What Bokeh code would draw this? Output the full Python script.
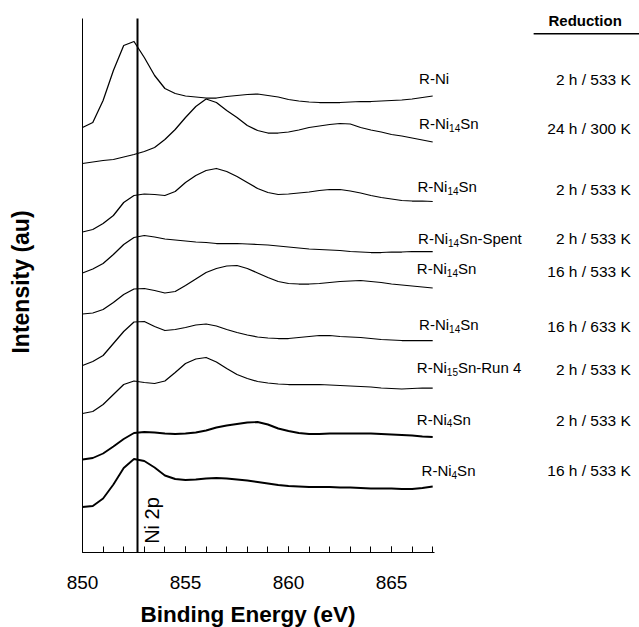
import math
from bokeh.plotting import figure
from bokeh.models import Range1d, SingleIntervalTicker, FixedTicker, ColumnDataSource, Label
from bokeh.core.properties import value
from bokeh.embed import file_html
from bokeh.resources import INLINE

# ---------------- data ----------------
energy = [850.0, 850.5, 851.0, 851.5, 852.0, 852.5, 853.0, 853.5, 854.0, 854.5,
          855.0, 855.5, 856.0, 856.5, 857.0, 857.5, 858.0, 858.5, 859.0, 859.5,
          860.0, 860.5, 861.0, 861.5, 862.0, 862.5, 863.0, 863.5, 864.0, 864.5,
          865.0, 865.5, 866.0, 866.5, 867.0]

# stacked intensities (au), top spectrum first
r_ni = [425, 430, 452, 482, 507, 511, 495, 477, 464, 459, 456.5, 455.5, 454.5, 454.5, 456,
        457, 458, 458.5, 457, 455.5, 453, 451.5, 450.5, 450, 450, 450, 450.5, 451, 451,
        451.5, 452, 452.5, 453.5, 455, 456.5]
r_ni14sn_24h_300k = [389, 390.5, 392, 393, 395.5, 398, 401, 405, 413, 423, 435, 446, 453.5, 450,
                     442, 435, 427, 422, 419.5, 419.5, 420.5, 422.5, 425, 426.5, 428, 429, 428.5,
                     425, 422.5, 420.5, 418, 416.5, 414.5, 412.5, 410.5]
r_ni14sn_2h_533k = [320.5, 323, 329, 337, 350, 357, 358.5, 358, 357, 361, 370, 377, 382, 384,
                    381, 376, 370, 364, 360, 358, 358.5, 359.5, 360.5, 362, 363, 363, 361.5,
                    359.5, 357, 355, 353.5, 352, 351.5, 351.5, 351]
r_ni14sn_spent = [279.5, 283.5, 289, 298, 308, 315, 317, 315.5, 313.5, 312.5, 311.5, 310.5, 310,
                  309, 309, 309, 308.5, 308, 307.5, 306.5, 305.5, 304.5, 303.5, 303, 302.5, 302,
                  301, 300.5, 300, 300, 300.5, 300.5, 301, 301, 301]
r_ni14sn_16h_533k = [238.5, 239.5, 243, 250, 258, 263.5, 264, 262, 259.5, 261, 267, 273.5, 280,
                     284, 286.5, 287, 284, 279.5, 275, 271, 269, 268.5, 268.5, 269, 270, 271,
                     271.5, 272, 271, 270, 268.5, 267.5, 266.5, 265.5, 264.5]
r_ni14sn_16h_633k = [187, 191, 197, 209, 221, 230.5, 231, 226, 222, 223, 225, 227.5, 228.5,
                     226.5, 223, 220, 217.5, 215.5, 214.5, 214, 214, 215, 216, 217, 217, 216,
                     215.5, 215, 214, 213, 212.5, 212, 212, 212, 212]
r_ni15sn_run4 = [139, 141, 148, 158, 168, 171.5, 170, 169, 171.5, 180, 189, 193.5, 195, 190.5,
                 184, 178, 174, 171, 169.5, 168.5, 168, 168, 168, 168, 167.5, 167, 166.5, 166,
                 165.5, 164.5, 164, 163.5, 164, 164.5, 164.5]
r_ni4sn_2h_533k = [93, 94.5, 99, 106, 113.5, 119.5, 120.5, 120, 119, 118.5, 119, 120, 122, 125,
                   127, 128.5, 130, 130.5, 128, 124, 121.5, 119.5, 118.5, 118.5, 119, 119, 119,
                   119, 119, 118.5, 118, 117.5, 117, 116, 115.5]
r_ni4sn_16h_533k = [45.5, 46.5, 54, 68, 84.5, 93.5, 91.5, 85, 77, 73.5, 72.5, 73, 74, 74.5, 74,
                    73, 72, 70.5, 69, 67.5, 66.5, 66, 65.5, 65.5, 65.5, 65, 65, 64.5, 64, 64, 64,
                    63.5, 63.5, 64.5, 66]

spectra = [r_ni, r_ni14sn_24h_300k, r_ni14sn_2h_533k, r_ni14sn_spent, r_ni14sn_16h_533k,
           r_ni14sn_16h_633k, r_ni15sn_run4, r_ni4sn_2h_533k, r_ni4sn_16h_533k]

label_main = ["R-Ni"] * 9
label_sub = ["", "14", "14", "14", "14", "14", "15", "4", "4"]
label_tail = ["", "Sn", "Sn", "Sn-Spent", "Sn", "Sn", "Sn-Run 4", "Sn", "Sn"]
reduction = ["2 h / 533 K", "24 h / 300 K", "2 h / 533 K", "2 h / 533 K", "16 h / 533 K",
             "16 h / 633 K", "2 h / 533 K", "2 h / 533 K", "16 h / 533 K"]

ni2p_energy = 852.67

# ---------------- layout / style ----------------
FONT = "Liberation Sans"
PX_PER_EV = 20.6
LEFT = 82          # pixels left of 850 eV
BOTTOM = 75        # pixels below zero intensity
W, H = 639, 627

label_x = [866.34, 866.34, 866.26, 866.29, 866.23, 866.34, 866.23, 866.23, 866.46]
label_y = [474.5, 429, 366, 314, 283.7, 228, 184.7, 133.5, 82]
red_x = 876.62
red_y = [473, 424.3, 363, 314.3, 281.3, 226, 182.7, 132, 82]
line_widths = [1.25, 1.25, 1.25, 1.25, 1.25, 1.25, 1.25, 1.9, 1.9]

# the frame covers the whole canvas; axes are pinned at 850 eV / zero intensity
p = figure(width=W, height=H, output_backend="svg", toolbar_location=None,
           x_range=Range1d(850 - LEFT / PX_PER_EV, 850 + (W - LEFT) / PX_PER_EV),
           y_range=Range1d(-BOTTOM, H - BOTTOM),
           min_border_left=0, min_border_right=0, min_border_top=0, min_border_bottom=0)
p.xgrid.visible = False
p.ygrid.visible = False
p.outline_line_color = None
p.background_fill_color = "white"
p.border_fill_color = "white"

xa = p.xaxis[0]
xa.fixed_location = 0
xa.ticker = SingleIntervalTicker(interval=5, num_minor_ticks=5)
xa.bounds = (850, 867.1)
xa.major_tick_in = 6
xa.major_tick_out = 0
xa.minor_tick_in = 6
xa.minor_tick_out = 0
xa.axis_line_color = "black"
xa.major_tick_line_color = "black"
xa.minor_tick_line_color = "black"
xa.major_label_text_font = FONT
xa.major_label_text_font_size = "19px"
xa.major_label_text_color = "black"
xa.major_label_standoff = 23

ya = p.yaxis[0]
ya.fixed_location = 850
ya.ticker = FixedTicker(ticks=[])
ya.bounds = (0, 534)
ya.major_tick_in = 0
ya.major_tick_out = 0
ya.minor_tick_in = 0
ya.minor_tick_out = 0
ya.axis_line_color = "black"

# axis titles
p.add_layout(Label(x=858.03, y=-61.5, text="Binding Energy (eV)", text_font=FONT,
                   text_font_size="22.5px", text_font_style="bold", text_color="black",
                   text_align="center", text_baseline="middle"))
p.add_layout(Label(x=847.0, y=270.5, text="Intensity (au)", text_font=FONT, angle=math.pi / 2,
                   text_font_size="23px", text_font_style="bold", text_color="black",
                   text_align="center", text_baseline="middle"))

# Ni 2p reference line
p.segment(x0=[ni2p_energy], y0=[0], x1=[ni2p_energy], y1=[534], line_color="black", line_width=2)
p.text(x=[853.39], y=[32], text=["Ni 2p"], angle=math.pi / 2, text_font=value(FONT),
       text_font_size="20px", text_align="center", text_baseline="middle", text_color="black")

# spectra
for s, lw in zip(spectra, line_widths):
    p.line(energy, s, line_color="black", line_width=lw, line_join="round")

# sample labels with subscripts
MAIN_PX, SUB_PX = 15, 10
W_RNI = 1.999 * MAIN_PX          # advance width of "R-Ni" (Arial metrics)
DIGIT = 0.556 * SUB_PX
xs, ys, txt, xo, yo, sz = [], [], [], [], [], []
for i in range(9):
    xs.append(label_x[i]); ys.append(label_y[i]); txt.append(label_main[i]); xo.append(0); yo.append(0); sz.append("15px")
    if label_sub[i]:
        xs.append(label_x[i]); ys.append(label_y[i]); txt.append(label_sub[i])
        xo.append(W_RNI); yo.append(4); sz.append("10px")
        xs.append(label_x[i]); ys.append(label_y[i]); txt.append(label_tail[i])
        xo.append(W_RNI + DIGIT * len(label_sub[i])); yo.append(0); sz.append("15px")
src = ColumnDataSource(dict(x=xs, y=ys, text=txt, xo=xo, yo=yo, sz=sz))
p.text(x="x", y="y", text="text", x_offset="xo", y_offset="yo", text_font_size="sz",
       text_font=value(FONT), text_align="left", text_baseline="middle",
       text_color="black", source=src)

# reduction column
p.text(x=[red_x] * 9, y=red_y, text=reduction, text_font=value(FONT), text_font_size="15.5px",
       text_align="right", text_baseline="middle", text_color="black")
p.text(x=[874.4], y=[532], text=["Reduction"], text_font=value(FONT), text_font_size="15px",
       text_font_style="bold", text_align="center", text_baseline="middle", text_color="black")
p.segment(x0=[871.9], y0=[518.7], x1=[877.1], y1=[518.7], line_color="black", line_width=1.5)

open("out.html", "w").write(file_html(p, INLINE))
